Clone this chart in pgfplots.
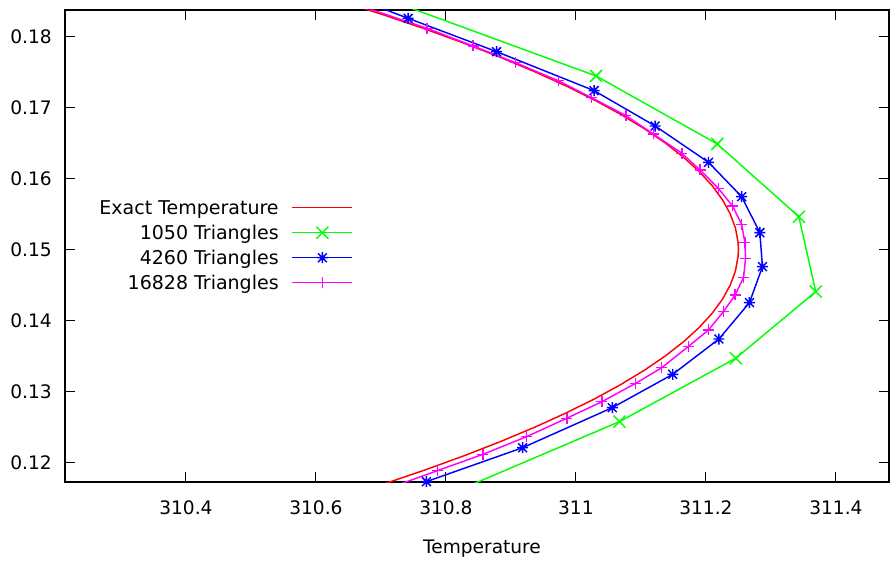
\documentclass[border=0pt]{standalone}
\usepackage{fontspec}
\setmainfont{DejaVu Sans}
\usepackage{pgfplots}
\pgfplotsset{compat=1.18}
\definecolor{gpred}{RGB}{255,0,0}
\definecolor{gpgreen}{RGB}{0,255,0}
\definecolor{gpblue}{RGB}{0,0,255}
\definecolor{gpmag}{RGB}{255,0,255}
\pgfdeclareplotmark{gpstar}{%
  \pgfpathmoveto{\pgfqpoint{-\pgfplotmarksize}{0pt}}\pgfpathlineto{\pgfqpoint{\pgfplotmarksize}{0pt}}%
  \pgfpathmoveto{\pgfqpoint{0pt}{-\pgfplotmarksize}}\pgfpathlineto{\pgfqpoint{0pt}{\pgfplotmarksize}}%
  \pgfpathmoveto{\pgfqpoint{-0.8\pgfplotmarksize}{-0.8\pgfplotmarksize}}\pgfpathlineto{\pgfqpoint{0.8\pgfplotmarksize}{0.8\pgfplotmarksize}}%
  \pgfpathmoveto{\pgfqpoint{-0.8\pgfplotmarksize}{0.8\pgfplotmarksize}}\pgfpathlineto{\pgfqpoint{0.8\pgfplotmarksize}{-0.8\pgfplotmarksize}}%
  \pgfusepathqstroke}
\pgfdeclareplotmark{gpx}{%
  \pgfpathmoveto{\pgfqpoint{-\pgfplotmarksize}{-\pgfplotmarksize}}\pgfpathlineto{\pgfqpoint{\pgfplotmarksize}{\pgfplotmarksize}}%
  \pgfpathmoveto{\pgfqpoint{-\pgfplotmarksize}{\pgfplotmarksize}}\pgfpathlineto{\pgfqpoint{\pgfplotmarksize}{-\pgfplotmarksize}}%
  \pgfusepathqstroke}
\pgfdeclareplotmark{gpplus}{%
  \pgfpathmoveto{\pgfqpoint{-\pgfplotmarksize}{0pt}}\pgfpathlineto{\pgfqpoint{\pgfplotmarksize}{0pt}}%
  \pgfpathmoveto{\pgfqpoint{0pt}{-\pgfplotmarksize}}\pgfpathlineto{\pgfqpoint{0pt}{\pgfplotmarksize}}%
  \pgfusepathqstroke}
\begin{document}
\begin{tikzpicture}
\begin{axis}[
  scale only axis, width=824pt, height=472pt,
  xmin=310.214, xmax=311.4817, ymin=0.11725, ymax=0.18373,
  font=\fontsize{18.6}{22}\selectfont,
  /pgf/number format/assume math mode=true,
  scaled ticks=false,
  xtick={310.4,310.6,310.8,311,311.2,311.4},
  xticklabels={310.4,310.6,310.8,311,311.2,311.4},
  ytick={0.12,0.13,0.14,0.15,0.16,0.17,0.18},
  yticklabels={0.12,0.13,0.14,0.15,0.16,0.17,0.18},
  tick align=inside, major tick length=10pt,
  tick style={black, line width=1pt},
  axis line style={black, line width=1.2pt},
  xticklabel style={inner sep=0pt, anchor=north, yshift=-18pt},
  yticklabel style={inner sep=0pt, anchor=east, xshift=-13pt},
  xlabel={Temperature},
  xlabel style={at={(axis description cs:0.5,0)}, anchor=north, inner sep=0pt, yshift=-58pt, xshift=5pt},
  legend plot pos=right,
  legend cell align=right,
  legend style={draw=none, fill=none, inner sep=0pt, at={(axis description cs:0.3499,0.5953)}, anchor=north east,
    row sep=12pt, column sep=13pt, nodes={inner sep=0pt, text height=13pt, text depth=0pt},
    font=\fontsize{19}{22}\selectfont},
  legend image code/.code={\draw[line width=1.45pt,mark repeat=2,mark phase=2] plot coordinates {(0pt,0pt) (30pt,0pt) (60pt,0pt)};},
  every axis plot/.append style={line width=1.45pt},
]
\addplot[gpred, no marks] coordinates {
(310.7055,0.117) (310.7695,0.119) (310.8295,0.121) (310.8855,0.123) (310.9375,0.125)
(310.9855,0.127) (311.0295,0.129) (311.0695,0.131) (311.1055,0.133) (311.1375,0.135)
(311.1655,0.137) (311.1895,0.139) (311.2095,0.141) (311.2255,0.143) (311.2375,0.145)
(311.2455,0.147) (311.2495,0.149) (311.2500,0.150) (311.2495,0.151) (311.2455,0.153) (311.2375,0.155)
(311.2255,0.157) (311.2095,0.159) (311.1895,0.161) (311.1655,0.163) (311.1375,0.165)
(311.1055,0.167) (311.0695,0.169) (311.0295,0.171) (310.9855,0.173) (310.9375,0.175)
(310.8855,0.177) (310.8295,0.179) (310.7695,0.181) (310.7055,0.183) (310.6375,0.185)
};
\addlegendentry{Exact Temperature}
\addplot[gpgreen, mark=gpx, mark size=6pt, mark options={solid}] coordinates {
(310.830,0.1165) (311.067,0.12575) (311.246,0.13468) (311.369,0.14406)
(311.343,0.15462) (311.2175,0.16486) (311.031,0.17444) (310.737,0.1843)
};
\addlegendentry{1050 Triangles}
\addplot[gpblue, mark=gpstar, mark size=5.5pt, mark options={solid}] coordinates {
(310.770,0.1173) (310.918,0.12208) (311.056,0.12772) (311.149,0.13242) (311.220,0.13739)
(311.267,0.14251) (311.287,0.14758) (311.283,0.15237) (311.255,0.15744) (311.204,0.16228)
(311.122,0.16739) (311.028,0.17237) (310.878,0.17786) (310.742,0.18256) (310.606,0.18725)
};
\addlegendentry{4260 Triangles}
\addplot[gpmag, mark=gpplus, mark size=5.5pt, mark options={solid}] coordinates {
(310.713,0.11641) (310.787,0.11885) (310.857,0.12115) (310.924,0.12363) (310.986,0.12623)
(311.040,0.12856) (311.092,0.13115) (311.132,0.13334) (311.173,0.13634) (311.204,0.13866)
(311.227,0.14124) (311.245,0.14359) (311.258,0.14608) (311.261,0.14876) (311.260,0.15096)
(311.255,0.15355) (311.241,0.15613) (311.219,0.15862) (311.191,0.16120) (311.163,0.16355)
(311.119,0.16627) (311.077,0.16885) (311.024,0.17138) (310.973,0.17377) (310.907,0.17631)
(310.842,0.17866) (310.771,0.18115) (310.684,0.18383)
};
\addlegendentry{16828 Triangles}
\end{axis}
\path ([shift={(-65pt,-80pt)}]current axis.south west) rectangle ([shift={(2pt,10pt)}]current axis.north east);
\end{tikzpicture}
\end{document}
